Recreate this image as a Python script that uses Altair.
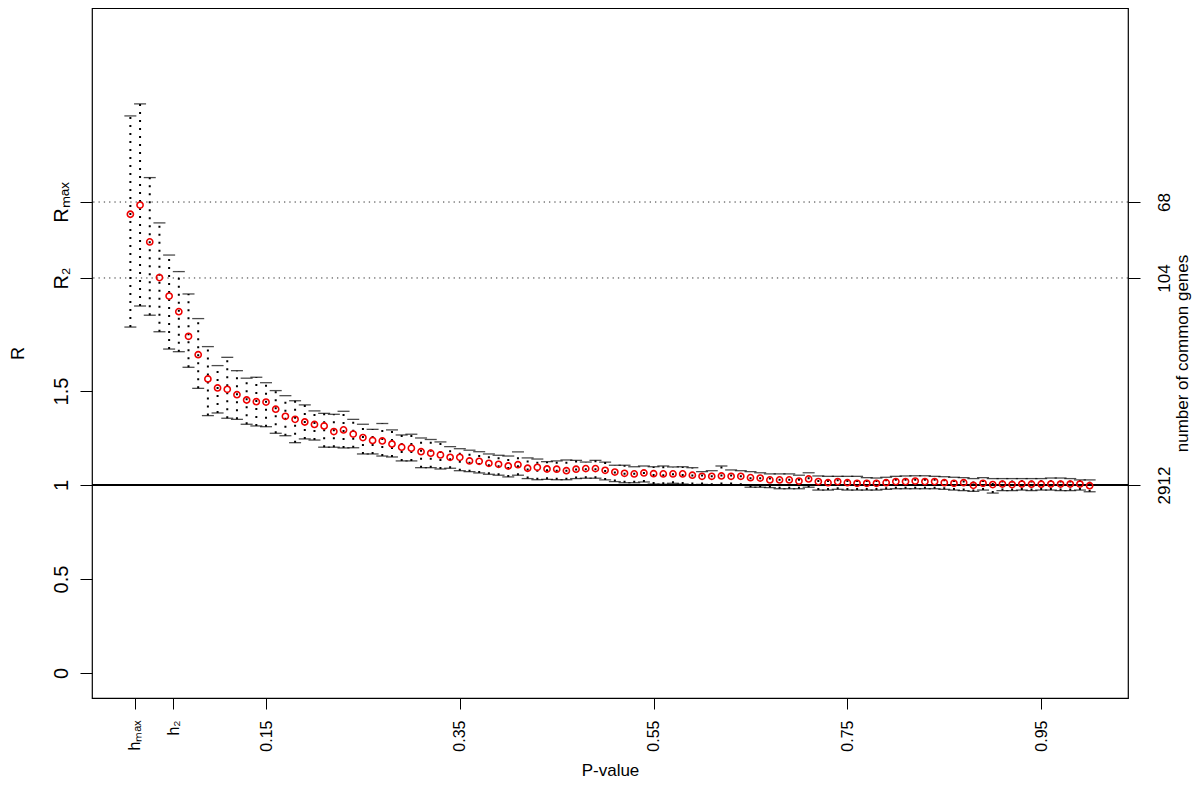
import altair as alt
import pandas as pd

# ---------------- data ----------------
p_value = [0.01, 0.02, 0.03, 0.04, 0.05, 0.06, 0.07, 0.08, 0.09, 0.10,
           0.11, 0.12, 0.13, 0.14, 0.15, 0.16, 0.17, 0.18, 0.19, 0.20,
           0.21, 0.22, 0.23, 0.24, 0.25, 0.26, 0.27, 0.28, 0.29, 0.30,
           0.31, 0.32, 0.33, 0.34, 0.35, 0.36, 0.37, 0.38, 0.39, 0.40,
           0.41, 0.42, 0.43, 0.44, 0.45, 0.46, 0.47, 0.48, 0.49, 0.50,
           0.51, 0.52, 0.53, 0.54, 0.55, 0.56, 0.57, 0.58, 0.59, 0.60,
           0.61, 0.62, 0.63, 0.64, 0.65, 0.66, 0.67, 0.68, 0.69, 0.70,
           0.71, 0.72, 0.73, 0.74, 0.75, 0.76, 0.77, 0.78, 0.79, 0.80,
           0.81, 0.82, 0.83, 0.84, 0.85, 0.86, 0.87, 0.88, 0.89, 0.90,
           0.91, 0.92, 0.93, 0.94, 0.95, 0.96, 0.97, 0.98, 0.99, 1.00]

mean_R = [2.440, 2.489, 2.293, 2.103, 2.005, 1.922, 1.791, 1.693, 1.564, 1.516,
          1.509, 1.480, 1.452, 1.443, 1.441, 1.403, 1.365, 1.349, 1.335, 1.322,
          1.314, 1.284, 1.293, 1.271, 1.252, 1.237, 1.234, 1.218, 1.201, 1.196,
          1.177, 1.169, 1.160, 1.147, 1.147, 1.128, 1.126, 1.115, 1.110, 1.101,
          1.108, 1.089, 1.094, 1.085, 1.084, 1.076, 1.084, 1.087, 1.087, 1.078,
          1.069, 1.062, 1.059, 1.064, 1.060, 1.059, 1.059, 1.059, 1.052, 1.046,
          1.046, 1.048, 1.046, 1.046, 1.039, 1.037, 1.027, 1.027, 1.027, 1.021,
          1.032, 1.018, 1.012, 1.018, 1.012, 1.009, 1.009, 1.009, 1.012, 1.018,
          1.018, 1.021, 1.018, 1.018, 1.012, 1.009, 1.012, 0.998, 1.009, 1.002,
          1.005, 1.002, 1.005, 1.004, 1.004, 1.005, 1.005, 1.005, 1.005, 0.996]

upper_R = [2.963, 3.027, 2.635, 2.394, 2.223, 2.135, 2.016, 1.885, 1.736, 1.635,
           1.679, 1.608, 1.568, 1.573, 1.544, 1.502, 1.475, 1.448, 1.426, 1.394,
           1.381, 1.376, 1.392, 1.349, 1.323, 1.296, 1.327, 1.293, 1.266, 1.270,
           1.250, 1.242, 1.229, 1.204, 1.193, 1.185, 1.177, 1.165, 1.158, 1.154,
           1.176, 1.144, 1.138, 1.124, 1.128, 1.133, 1.131, 1.122, 1.131, 1.122,
           1.105, 1.105, 1.097, 1.101, 1.097, 1.101, 1.096, 1.097, 1.092, 1.071,
           1.076, 1.101, 1.080, 1.076, 1.071, 1.065, 1.059, 1.059, 1.059, 1.052,
           1.065, 1.048, 1.046, 1.046, 1.046, 1.046, 1.039, 1.037, 1.041, 1.046,
           1.048, 1.049, 1.049, 1.046, 1.044, 1.041, 1.039, 1.034, 1.039, 1.034,
           1.034, 1.034, 1.034, 1.034, 1.034, 1.037, 1.037, 1.034, 1.027, 1.027]

lower_R = [1.840, 1.952, 1.903, 1.815, 1.723, 1.709, 1.626, 1.514, 1.369, 1.383,
           1.355, 1.349, 1.323, 1.314, 1.310, 1.275, 1.262, 1.225, 1.245, 1.239,
           1.201, 1.201, 1.197, 1.198, 1.165, 1.165, 1.154, 1.149, 1.128, 1.128,
           1.092, 1.092, 1.085, 1.089, 1.076, 1.071, 1.064, 1.057, 1.052, 1.043,
           1.052, 1.034, 1.028, 1.030, 1.028, 1.028, 1.034, 1.036, 1.036, 1.027,
           1.018, 1.012, 1.012, 1.016, 1.005, 1.004, 1.009, 1.005, 1.002, 1.003,
           0.998, 1.002, 1.002, 0.998, 0.988, 0.988, 0.986, 0.980, 0.980, 0.980,
           0.988, 0.973, 0.973, 0.977, 0.973, 0.973, 0.973, 0.973, 0.977, 0.980,
           0.980, 0.980, 0.980, 0.980, 0.977, 0.973, 0.970, 0.966, 0.973, 0.957,
           0.970, 0.970, 0.973, 0.970, 0.973, 0.973, 0.970, 0.970, 0.973, 0.964]

R_max = 2.505
R_2 = 2.101
h_max = 0.0143
h_2 = 0.0545

x_ticks = [h_max, h_2, 0.15, 0.35, 0.55, 0.75, 0.95]
x_tick_labels = ["hₘₐₓ", "h₂", "0.15", "0.35", "0.55", "0.75", "0.95"]
y_ticks = [0, 0.5, 1, 1.5, R_2, R_max]
y_tick_labels = ["0", "0.5", "1", "1.5", "R₂", "Rₘₐₓ"]
gene_ticks = [R_max, R_2, 1]
gene_labels = ["68", "104", "2912"]
ref_levels = [R_max, R_2]
baseline_level = [1]

x_domain = [-0.0296, 1.0396]
y_domain = [-0.133, 3.537]

FONT = "Liberation Sans"


def label_expr(values, labels):
    expr = "''"
    for v, l in reversed(list(zip(values, labels))):
        expr = f"datum.value == {v} ? '{l}' : ({expr})"
    return expr


df = pd.DataFrame({"p": p_value, "mean": mean_R, "hi": upper_R, "lo": lower_R})

x_enc = alt.X(
    "p:Q",
    scale=alt.Scale(domain=x_domain, nice=False, zero=False),
    axis=alt.Axis(
        values=x_ticks, labelExpr=label_expr(x_ticks, x_tick_labels),
        labelAngle=270, labelAlign="right", labelBaseline="middle",
        labelPadding=11, tickSize=11, tickWidth=1, tickColor="black",
        labelFontSize=16, labelColor="black", labelFont=FONT,
        labelOverlap=False, labelFlush=False, labelBound=False,
        grid=False, domain=False,
        title="P-value", titleFont=FONT, titleFontSize=17,
        titleFontWeight="normal", titleColor="black",
        titleY=77, titleBaseline="alphabetic",
    ),
)

y_scale = alt.Scale(domain=y_domain, nice=False, zero=False)

left_axis = alt.Axis(
    orient="left", values=y_ticks, labelExpr=label_expr(y_ticks, y_tick_labels),
    labelAngle=270, labelAlign="center", labelBaseline="bottom",
    labelPadding=9, tickSize=12, tickWidth=1, tickColor="black",
    labelFontSize=20, labelColor="black", labelFont=FONT,
    labelOverlap=False, labelFlush=False, labelBound=False,
    grid=False, domain=False,
    title="R", titleFont=FONT, titleFontSize=18, titleFontWeight="normal",
    titleColor="black", titleAngle=270, titleX=-74, titleY=345,
    titleBaseline="middle", titleAlign="center",
)

right_axis = alt.Axis(
    orient="right", values=gene_ticks, labelExpr=label_expr(gene_ticks, gene_labels),
    labelAngle=270, labelAlign="center", labelBaseline="top",
    labelPadding=16, tickSize=12, tickWidth=1, tickColor="black",
    labelFontSize=17, labelColor="black", labelFont=FONT,
    labelOverlap=False, labelFlush=False, labelBound=False,
    grid=False, domain=False,
    title="number of common genes", titleFont=FONT, titleFontSize=17,
    titleFontWeight="normal", titleColor="black", titleAngle=270,
    titleX=59, titleY=345, titleBaseline="alphabetic", titleAlign="center",
)

# dotted reference lines at R_max and R_2 (carry the right axis)
ref_df = pd.DataFrame({"r": ref_levels})
ref_rules = alt.Chart(ref_df).mark_rule(
    color="#333333", strokeWidth=1, strokeDash=[1.3, 4]
).encode(y=alt.Y("r:Q", scale=y_scale, axis=right_axis))

# solid line at R = 1
base_df = pd.DataFrame({"r": baseline_level})
base_rule = alt.Chart(base_df).mark_rule(color="black", strokeWidth=2).encode(
    y=alt.Y("r:Q", scale=y_scale, axis=None)
)

# dotted whiskers (carry the left axis)
whiskers = alt.Chart(df).mark_rule(
    color="black", strokeWidth=2, strokeDash=[2, 6]
).encode(
    x=x_enc,
    y=alt.Y("lo:Q", scale=y_scale, axis=left_axis),
    y2="hi:Q",
)

caps = alt.Chart(df).transform_fold(["lo", "hi"], as_=["which", "val"]).mark_tick(
    orient="horizontal", color="black", size=12, thickness=1.3
).encode(
    x=x_enc,
    y=alt.Y("val:Q", scale=y_scale, axis=None),
)

means = alt.Chart(df).mark_point(
    shape="circle", filled=False, color="#ee0000", size=38, strokeWidth=1.6, opacity=1
).encode(
    x=x_enc,
    y=alt.Y("mean:Q", scale=y_scale, axis=None),
)

chart = alt.layer(ref_rules, base_rule, whiskers, caps, means).resolve_axis(
    y="independent"
).properties(
    width=1036, height=690,
    autosize=alt.AutoSizeParams(type="none"),
    padding={"left": 84, "top": 0, "right": 64, "bottom": 83},
).configure(
    font=FONT, background="white"
).configure_view(
    stroke="black", strokeWidth=1.2
)

chart.save("out.html", embed_options={"renderer": "svg", "actions": False})
